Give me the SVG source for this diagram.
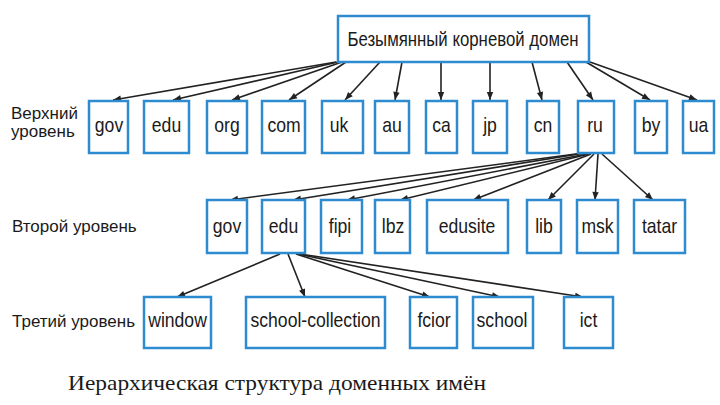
<svg xmlns="http://www.w3.org/2000/svg" width="720" height="405" viewBox="0 0 720 405">
<defs>
<marker id="ah" viewBox="0 0 10 10" refX="10" refY="5" markerWidth="10" markerHeight="8" markerUnits="userSpaceOnUse" orient="auto">
<path d="M0,1 L10,5 L0,9 Z" fill="#222"/>
</marker>
<style>
.box{fill:#fff;stroke:#2e8bd0;stroke-width:2.5}
.t{font-family:"Liberation Sans",Arial,sans-serif;font-size:20px;fill:#1a1a1a;text-anchor:middle}
.lbl{font-family:"Liberation Sans",Arial,sans-serif;font-size:17px;fill:#1a1a1a}
.cap{font-family:"Liberation Serif","Times New Roman",serif;font-size:22px;fill:#1a1a1a}
.c line{stroke:#222;stroke-width:1.6;marker-end:url(#ah)}
</style>
</defs>
<rect width="720" height="405" fill="#fff"/>
<g class="c" id="connectors">
<line x1="336" y1="62" x2="113" y2="100"/>
<line x1="338" y1="62" x2="173" y2="100"/>
<line x1="342" y1="62" x2="232" y2="100"/>
<line x1="346" y1="62" x2="289" y2="100"/>
<line x1="380" y1="62" x2="345" y2="100"/>
<line x1="402" y1="62" x2="395" y2="100"/>
<line x1="441" y1="62" x2="441" y2="100"/>
<line x1="490" y1="62" x2="490" y2="100"/>
<line x1="532" y1="62" x2="542" y2="100"/>
<line x1="567" y1="62" x2="593" y2="100"/>
<line x1="586" y1="62" x2="650" y2="100"/>
<line x1="590" y1="62" x2="697" y2="100"/>
<line x1="583" y1="153" x2="230" y2="200"/>
<line x1="585" y1="153" x2="293" y2="200"/>
<line x1="587" y1="154" x2="347" y2="200"/>
<line x1="589" y1="154" x2="400" y2="200"/>
<line x1="591" y1="154" x2="473" y2="200"/>
<line x1="594" y1="154" x2="548" y2="200"/>
<line x1="598" y1="154" x2="595" y2="200"/>
<line x1="602" y1="154" x2="653" y2="200"/>
<line x1="280" y1="254" x2="177" y2="297"/>
<line x1="288" y1="254" x2="305" y2="297"/>
<line x1="296" y1="254" x2="430" y2="297"/>
<line x1="298" y1="254" x2="500" y2="297"/>
<line x1="300" y1="254" x2="583" y2="297"/>
</g>
<g id="root"><rect class="box" x="338" y="16" width="251" height="46"/><text class="t" transform="translate(463,46) scale(0.84,1)">Безымянный корневой домен</text></g>
<g id="tld-gov"><rect class="box" x="89" y="101" width="39" height="52"/><text class="t" transform="translate(109,132) scale(0.88,1)">gov</text></g>
<g id="tld-edu"><rect class="box" x="144" y="101" width="45" height="52"/><text class="t" transform="translate(166.5,132) scale(0.88,1)">edu</text></g>
<g id="tld-org"><rect class="box" x="207" y="101" width="40" height="52"/><text class="t" transform="translate(227,132) scale(0.88,1)">org</text></g>
<g id="tld-com"><rect class="box" x="262" y="101" width="43" height="52"/><text class="t" transform="translate(284,132) scale(0.88,1)">com</text></g>
<g id="tld-uk"><rect class="box" x="322" y="101" width="41" height="52"/><text class="t" transform="translate(339,132) scale(0.88,1)">uk</text></g>
<g id="tld-au"><rect class="box" x="375" y="101" width="34" height="52"/><text class="t" transform="translate(392,132) scale(0.88,1)">au</text></g>
<g id="tld-ca"><rect class="box" x="426" y="101" width="31" height="52"/><text class="t" transform="translate(441.5,132) scale(0.88,1)">ca</text></g>
<g id="tld-jp"><rect class="box" x="473" y="101" width="34" height="52"/><text class="t" transform="translate(490,132) scale(0.88,1)">jp</text></g>
<g id="tld-cn"><rect class="box" x="527" y="101" width="32" height="52"/><text class="t" transform="translate(543,132) scale(0.88,1)">cn</text></g>
<g id="tld-ru"><rect class="box" x="578" y="101" width="36" height="52"/><text class="t" transform="translate(595,132) scale(0.88,1)">ru</text></g>
<g id="tld-by"><rect class="box" x="635" y="101" width="32" height="52"/><text class="t" transform="translate(651,132) scale(0.88,1)">by</text></g>
<g id="tld-ua"><rect class="box" x="683" y="101" width="31" height="52"/><text class="t" transform="translate(698.5,132) scale(0.88,1)">ua</text></g>
<g id="sl-gov"><rect class="box" x="207" y="200" width="40" height="53"/><text class="t" transform="translate(227,233) scale(0.88,1)">gov</text></g>
<g id="sl-edu"><rect class="box" x="262" y="200" width="43" height="53"/><text class="t" transform="translate(283.5,233) scale(0.88,1)">edu</text></g>
<g id="sl-fipi"><rect class="box" x="321" y="200" width="41" height="53"/><text class="t" transform="translate(340,233) scale(0.88,1)">fipi</text></g>
<g id="sl-lbz"><rect class="box" x="375" y="200" width="35" height="53"/><text class="t" transform="translate(393,233) scale(0.88,1)">lbz</text></g>
<g id="sl-edusite"><rect class="box" x="427" y="200" width="81" height="53"/><text class="t" transform="translate(467,233) scale(0.88,1)">edusite</text></g>
<g id="sl-lib"><rect class="box" x="527" y="200" width="34" height="53"/><text class="t" transform="translate(544,233) scale(0.88,1)">lib</text></g>
<g id="sl-msk"><rect class="box" x="577" y="200" width="41" height="53"/><text class="t" transform="translate(597.5,233) scale(0.88,1)">msk</text></g>
<g id="sl-tatar"><rect class="box" x="634" y="200" width="51" height="53"/><text class="t" transform="translate(659.5,233) scale(0.88,1)">tatar</text></g>
<g id="th-window"><rect class="box" x="144" y="297" width="67" height="51"/><text class="t" transform="translate(177.5,327) scale(0.88,1)">window</text></g>
<g id="th-school-collection"><rect class="box" x="246" y="297" width="139" height="51"/><text class="t" transform="translate(315.5,327) scale(0.88,1)">school-collection</text></g>
<g id="th-fcior"><rect class="box" x="410" y="297" width="47" height="51"/><text class="t" transform="translate(434,327) scale(0.88,1)">fcior</text></g>
<g id="th-school"><rect class="box" x="473" y="297" width="60" height="51"/><text class="t" transform="translate(502,327) scale(0.88,1)">school</text></g>
<g id="th-ict"><rect class="box" x="564" y="297" width="49" height="51"/><text class="t" transform="translate(588.5,327) scale(0.88,1)">ict</text></g>
<g id="labels">
<text class="lbl" x="11" y="119" font-size="16">Верхний</text>
<text class="lbl" x="11" y="137" font-size="16">уровень</text>
<text class="lbl" x="12" y="232">Второй уровень</text>
<text class="lbl" x="12" y="327">Третий уровень</text>
<text class="cap" x="68" y="390" textLength="418" lengthAdjust="spacingAndGlyphs">Иерархическая структура доменных имён</text>
</g>
</svg>
